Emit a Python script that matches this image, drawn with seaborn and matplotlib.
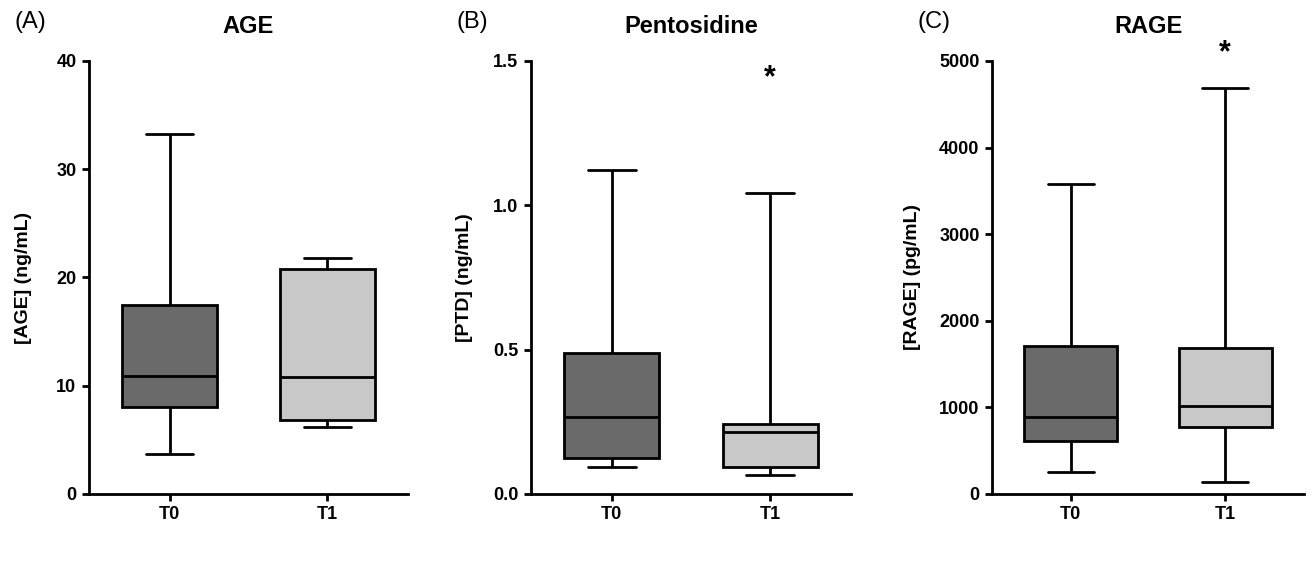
import matplotlib
matplotlib.use("Agg")
import matplotlib.pyplot as plt
import seaborn as sns
import pandas as pd

# Five-number summaries (min, Q1, median, Q3, max)
groups = ["T0", "T1"]
age_t0 = [3.7, 8.0, 10.9, 17.5, 33.3]
age_t1 = [6.2, 6.8, 10.8, 20.8, 21.8]
ptd_t0 = [0.092, 0.126, 0.268, 0.487, 1.122]
ptd_t1 = [0.065, 0.092, 0.214, 0.244, 1.041]
rage_t0 = [258, 612, 889, 1712, 3583]
rage_t1 = [135, 777, 1016, 1682, 4692]

titles = ["AGE", "Pentosidine", "RAGE"]
panel_labels = ["(A)", "(B)", "(C)"]
ylabels = ["[AGE] (ng/mL)", "[PTD] (ng/mL)", "[RAGE] (pg/mL)"]
yticks = [[0, 10, 20, 30, 40], [0.0, 0.5, 1.0, 1.5], [0, 1000, 2000, 3000, 4000, 5000]]
yticklabels = [["0", "10", "20", "30", "40"], ["0.0", "0.5", "1.0", "1.5"],
               ["0", "1000", "2000", "3000", "4000", "5000"]]
ylims = [(0, 40), (0, 1.5), (0, 5000)]
stars = [None, 1.44, 5090]

series = [(age_t0, age_t1), (ptd_t0, ptd_t1), (rage_t0, rage_t1)]

sns.set_theme(style="ticks")
plt.rcParams['font.family'] = ['Liberation Sans', 'DejaVu Sans']
plt.rcParams['text.color'] = 'black'
plt.rcParams['axes.labelcolor'] = 'black'
plt.rcParams['xtick.color'] = 'black'
plt.rcParams['ytick.color'] = 'black'

fig = plt.figure(figsize=(13.14, 5.76), dpi=100)
positions = [(0.0677, 0.1424, 0.2428, 0.7517),
             (0.4041, 0.1424, 0.2435, 0.7517),
             (0.7550, 0.1424, 0.2374, 0.7517)]
label_x = [-0.18, -0.18, -0.228]
palette = {"T0": "#6a6a6a", "T1": "#c8c8c8"}

for i, (t0, t1) in enumerate(series):
    ax = fig.add_axes(positions[i])
    df = pd.DataFrame({"group": ["T0"] * len(t0) + ["T1"] * len(t1),
                       "value": list(t0) + list(t1)})
    sns.boxplot(data=df, x="group", y="value", hue="group", palette=palette,
                order=groups, whis=(0, 100), width=0.6, linewidth=2,
                linecolor="black", legend=False, ax=ax,
                medianprops=dict(color="black", linewidth=2),
                whiskerprops=dict(color="black", linewidth=2),
                capprops=dict(color="black", linewidth=2),
                boxprops=dict(edgecolor="black", linewidth=2))
    ax.set_xlim(-0.51, 1.51)
    ax.set_ylim(*ylims[i])
    ax.set_yticks(yticks[i])
    ax.set_yticklabels(yticklabels[i], fontsize=13, fontweight="bold", color="black")
    ax.set_xticks([0, 1])
    ax.set_xticklabels(groups, fontsize=13, fontweight="bold", color="black")
    ax.set_xlabel("")
    ax.set_ylabel(ylabels[i], fontsize=14, fontweight="bold", color="black")
    ax.yaxis.set_label_coords(label_x[i], 0.5)
    ax.set_title(titles[i], fontsize=17, fontweight="bold", pad=20, color="black")
    for s in ["left", "bottom"]:
        ax.spines[s].set_linewidth(2)
        ax.spines[s].set_color("black")
    sns.despine(ax=ax)
    ax.tick_params(width=2, length=5, color="black", pad=4)
    if stars[i] is not None:
        ax.text(1, stars[i], "*", ha="center", va="center", fontsize=22,
                fontweight="bold", clip_on=False, color="black")
    fig.text(positions[i][0] - 0.057, 0.962, panel_labels[i], fontsize=17,
             ha="left", va="center", color="black")

fig.savefig("out.png", dpi=100)
